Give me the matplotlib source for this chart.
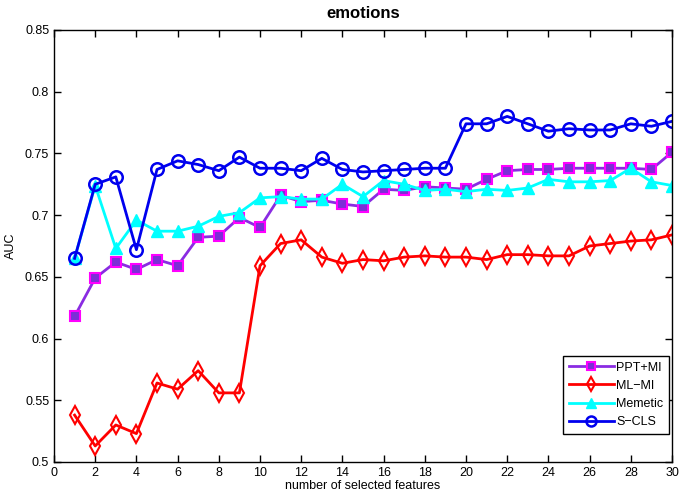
import matplotlib
matplotlib.use("Agg")
import matplotlib.pyplot as plt
import numpy as np

plt.rcParams['font.family'] = ['Liberation Sans', 'DejaVu Sans']

x = list(range(1, 31))
ppt_mi = [0.618, 0.649, 0.662, 0.656, 0.664, 0.659, 0.682, 0.683, 0.698, 0.690,
          0.716, 0.711, 0.712, 0.709, 0.707, 0.721, 0.720, 0.723, 0.722, 0.721,
          0.729, 0.736, 0.737, 0.737, 0.738, 0.738, 0.738, 0.738, 0.737, 0.751]
ml_mi = [0.538, 0.513, 0.530, 0.523, 0.564, 0.559, 0.574, 0.556, 0.556, 0.659,
         0.677, 0.680, 0.666, 0.661, 0.664, 0.663, 0.666, 0.667, 0.666, 0.666,
         0.664, 0.668, 0.668, 0.667, 0.667, 0.675, 0.677, 0.679, 0.680, 0.684]
memetic = [0.665, 0.724, 0.673, 0.696, 0.687, 0.687, 0.691, 0.699, 0.702, 0.714,
           0.715, 0.713, 0.713, 0.725, 0.715, 0.728, 0.725, 0.720, 0.721, 0.719,
           0.721, 0.720, 0.722, 0.729, 0.727, 0.727, 0.728, 0.738, 0.727, 0.724]
s_cls = [0.665, 0.725, 0.731, 0.672, 0.737, 0.744, 0.741, 0.736, 0.747, 0.738,
         0.738, 0.736, 0.746, 0.737, 0.735, 0.736, 0.737, 0.738, 0.738, 0.774,
         0.774, 0.780, 0.774, 0.768, 0.770, 0.769, 0.769, 0.774, 0.772, 0.776]
labels = ['PPT+MI', 'ML\u2212MI', 'Memetic', 'S\u2212CLS']
xticks = list(range(0, 31, 2))
yticks = [0.5, 0.55, 0.6, 0.65, 0.7, 0.75, 0.8, 0.85]

fig = plt.figure(figsize=(6.79, 5.04), dpi=100)
ax = fig.add_axes([54/679, 1-462/504, 618/679, 432/504])

ax.plot(x, ppt_mi, color='#8A2BE2', lw=2, marker='s', ms=7,
        mfc='#7B2FD6', mec='#FF00FF', mew=1.5, label=labels[0])
ax.plot(x, ml_mi, color='#FF0000', lw=2, marker='d', ms=9,
        mfc='none', mec='#FF0000', mew=1.5, label=labels[1])
ax.plot(x, memetic, color='#00FFFF', lw=2, marker='^', ms=9,
        mfc='#00FFFF', mec='#00FFFF', label=labels[2])
ax.plot(x, s_cls, color='#0000EE', lw=2, marker='o', ms=9,
        mfc='none', mec='#0000EE', mew=1.8, label=labels[3])

ax.set_xlim(0, 30)
ax.set_ylim(0.5, 0.85)
ax.set_xticks(xticks)
ax.set_yticks(yticks)
ax.set_yticklabels(['0.5', '0.55', '0.6', '0.65', '0.7', '0.75', '0.8', '0.85'])
ax.tick_params(direction='in', top=True, right=True, labelsize=9, length=5, width=1)
for s in ax.spines.values():
    s.set_linewidth(1)
ax.set_xlabel('number of selected features', fontsize=9, labelpad=1)
ax.set_ylabel('AUC', fontsize=9, labelpad=6)
ax.set_title('emotions', fontsize=12, fontweight='bold', pad=9)

leg = ax.legend(loc='lower right', fontsize=9, fancybox=False, edgecolor='black',
                framealpha=1, borderpad=0.45, handlelength=3.6, handletextpad=0.2,
                labelspacing=0.5, markerscale=0.8, borderaxespad=0,
                bbox_to_anchor=(0.995, 0.065))
leg.get_frame().set_linewidth(1)

fig.savefig('out.png', dpi=100)
